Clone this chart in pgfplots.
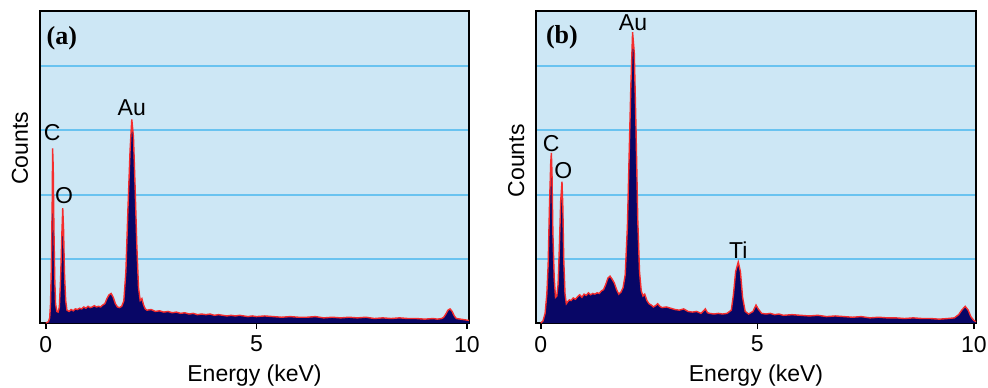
\documentclass[border=0pt]{standalone}
\usepackage{fontspec}
\setmainfont{Liberation Sans}
\newfontfamily\serifbf{Liberation Serif}
\usepackage{pgfplots}
\usepackage{pgfplotstable}
\pgfplotsset{compat=1.18}
\definecolor{bgblue}{RGB}{205,231,245}
\definecolor{gridblue}{RGB}{105,195,240}
\definecolor{navy}{RGB}{8,6,102}
\definecolor{specred}{RGB}{245,45,45}

\pgfplotstableread{
x y
0.00 0.00
0.06 0.02
0.09 0.08
0.11 0.30
0.13 0.90
0.15 1.90
0.16 2.72
0.175 2.40
0.19 1.50
0.21 0.70
0.23 0.30
0.26 0.18
0.29 0.17
0.32 0.25
0.35 0.70
0.38 1.40
0.40 1.79
0.42 1.45
0.44 0.80
0.47 0.35
0.50 0.20
0.55 0.18
0.60 0.21
0.65 0.19
0.70 0.22
0.75 0.21
0.80 0.23
0.85 0.22
0.90 0.25
0.95 0.23
1.00 0.26
1.05 0.24
1.10 0.25
1.15 0.27
1.20 0.25
1.25 0.26
1.30 0.25
1.35 0.28
1.40 0.30
1.45 0.38
1.50 0.44
1.55 0.46
1.60 0.40
1.65 0.30
1.70 0.25
1.75 0.24
1.80 0.26
1.85 0.34
1.90 0.80
1.95 1.80
2.00 2.70
2.04 3.17
2.08 2.90
2.12 2.10
2.16 1.20
2.20 0.55
2.24 0.35
2.28 0.38
2.32 0.28
2.36 0.22
2.40 0.20
2.50 0.21
2.60 0.18
2.70 0.19
2.80 0.17
2.90 0.18
3.00 0.16
3.10 0.17
3.20 0.15
3.30 0.16
3.40 0.14
3.50 0.15
3.60 0.13
3.70 0.14
3.80 0.13
3.90 0.14
4.00 0.12
4.10 0.13
4.20 0.12
4.30 0.11
4.40 0.12
4.50 0.11
4.60 0.12
4.70 0.11
4.80 0.10
4.90 0.11
5.00 0.10
5.20 0.11
5.40 0.10
5.60 0.09
5.80 0.10
6.00 0.09
6.20 0.09
6.40 0.10
6.60 0.08
6.80 0.09
7.00 0.08
7.20 0.09
7.40 0.08
7.60 0.09
7.80 0.07
8.00 0.08
8.20 0.07
8.40 0.08
8.60 0.07
8.80 0.07
9.00 0.06
9.20 0.07
9.30 0.06
9.40 0.07
9.45 0.09
9.50 0.14
9.55 0.20
9.60 0.22
9.65 0.18
9.70 0.11
9.75 0.07
9.85 0.06
9.95 0.05
10.05 0.04
}\specA

\pgfplotstableread{
x y
0.00 0.00
0.05 0.03
0.10 0.15
0.14 0.45
0.17 0.90
0.20 1.80
0.23 2.50
0.245 2.65
0.26 2.30
0.28 1.40
0.31 0.70
0.34 0.40
0.37 0.42
0.40 0.60
0.43 1.20
0.46 1.90
0.49 2.20
0.51 1.80
0.53 1.00
0.56 0.45
0.59 0.30
0.62 0.33
0.66 0.36
0.70 0.35
0.75 0.39
0.80 0.37
0.85 0.41
0.90 0.44
0.95 0.40
1.00 0.45
1.05 0.43
1.10 0.47
1.15 0.44
1.20 0.46
1.25 0.45
1.30 0.47
1.35 0.46
1.40 0.50
1.45 0.52
1.50 0.60
1.55 0.70
1.60 0.73
1.65 0.68
1.70 0.62
1.75 0.52
1.80 0.45
1.85 0.48
1.90 0.55
1.95 0.75
2.00 1.50
2.04 2.60
2.08 3.70
2.12 4.53
2.16 4.20
2.20 3.00
2.24 1.60
2.28 0.80
2.32 0.50
2.36 0.42
2.40 0.45
2.45 0.35
2.50 0.30
2.55 0.28
2.60 0.25
2.65 0.27
2.70 0.30
2.75 0.26
2.80 0.24
2.90 0.25
3.00 0.23
3.10 0.21
3.20 0.20
3.30 0.22
3.40 0.18
3.50 0.17
3.60 0.18
3.70 0.15
3.80 0.22
3.85 0.16
3.90 0.15
4.00 0.14
4.10 0.15
4.20 0.14
4.30 0.15
4.40 0.20
4.45 0.45
4.50 0.80
4.56 0.95
4.61 0.80
4.66 0.40
4.72 0.18
4.80 0.14
4.90 0.18
4.97 0.28
5.02 0.22
5.10 0.15
5.20 0.14
5.30 0.15
5.40 0.13
5.50 0.14
5.60 0.12
5.80 0.13
6.00 0.12
6.20 0.11
6.40 0.12
6.60 0.10
6.80 0.11
7.00 0.10
7.20 0.09
7.40 0.10
7.60 0.08
7.80 0.09
8.00 0.08
8.20 0.08
8.40 0.07
8.60 0.08
8.80 0.07
9.00 0.07
9.20 0.06
9.40 0.07
9.55 0.08
9.65 0.13
9.72 0.20
9.80 0.26
9.87 0.20
9.93 0.10
10.00 0.04
10.05 0.02
}\specB

\pgfplotsset{
  edsstyle/.style={
    scale only axis,
    height=156pt,
    ymin=0, ymax=4.86,
    axis background/.style={fill=bgblue},
    axis line style={black, line width=1pt},
    ytick={1,2,3,4}, yticklabels={},
    y tick style={draw=none},
    ymajorgrids,
    major grid style={gridblue, line width=1pt},
    xtick={0,5,10},
    xtick pos=left,
    tick align=outside,
    major tick length=3pt,
    x tick style={black, line width=0.8pt},
    /pgf/number format/assume math mode=true,
    tick label style={font=\fontsize{11.5}{13}\selectfont},
    label style={font=\fontsize{11.5}{13}\selectfont},
    xlabel={Energy (keV)},
    ylabel={Counts},
    clip mode=individual,
  }
}

\begin{document}
\begin{tikzpicture}
\useasboundingbox (0,0) rectangle (494pt,193.5pt);
\begin{axis}[edsstyle,
  at={(20pt,32pt)}, anchor=south west,
  width=214.5pt,
  xmin=-0.14, xmax=10.05,
  xlabel style={at={(axis description cs:0.5,-0.167)}, anchor=center},
  ylabel style={at={(axis description cs:-0.047,0.56)}, anchor=center},
]
\addplot[fill=navy, draw=none] table[x=x,y=y] {\specA} \closedcycle;
\addplot[specred, line width=0.7pt] table[x=x,y=y] {\specA};
\node[font=\fontsize{11.5}{13}\selectfont] at (axis cs:0.15,2.96) {C};
\node[font=\fontsize{11.5}{13}\selectfont] at (axis cs:0.43,1.98) {O};
\node[font=\fontsize{11.5}{13}\selectfont] at (axis cs:2.04,3.35) {Au};
\node[font=\fontsize{13}{14}\selectfont\serifbf\bfseries] at (rel axis cs:0.051,0.913) {(a)};
\end{axis}
\begin{axis}[edsstyle,
  at={(268pt,32pt)}, anchor=south west,
  width=220pt,
  xmin=-0.11, xmax=10.05,
  xlabel style={at={(axis description cs:0.5,-0.167)}, anchor=center},
  ylabel style={at={(axis description cs:-0.045,0.52)}, anchor=center},
]
\addplot[fill=navy, draw=none] table[x=x,y=y] {\specB} \closedcycle;
\addplot[specred, line width=0.7pt] table[x=x,y=y] {\specB};
\node[font=\fontsize{11.5}{13}\selectfont] at (axis cs:0.24,2.8) {C};
\node[font=\fontsize{11.5}{13}\selectfont] at (axis cs:0.52,2.38) {O};
\node[font=\fontsize{11.5}{13}\selectfont] at (axis cs:2.13,4.68) {Au};
\node[font=\fontsize{11.5}{13}\selectfont] at (axis cs:4.56,1.14) {Ti};
\node[font=\fontsize{13}{14}\selectfont\serifbf\bfseries] at (rel axis cs:0.059,0.917) {(b)};
\end{axis}
\end{tikzpicture}
\end{document}
